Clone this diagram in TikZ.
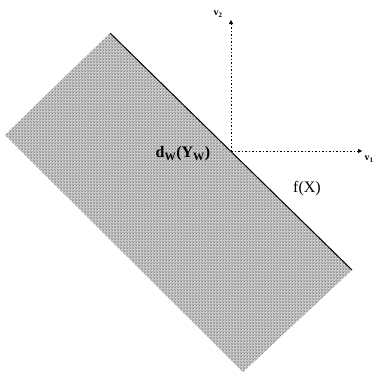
\documentclass[tikz,border=0pt]{standalone}
\usepackage{fontspec}
\setmainfont{Liberation Serif}
\usetikzlibrary{patterns,arrows.meta}
\begin{document}
\begin{tikzpicture}[x=1pt,y=-1pt,
  axisline/.style={dash pattern=on 1.5pt off 2pt,line width=0.5pt,-{Triangle[length=4pt,width=4pt]}},
  lbl/.style={inner sep=0pt,font=\fontsize{16}{16}\selectfont}]
\useasboundingbox (0,0) rectangle (377,373);
\coordinate (T) at (110,33);
\coordinate (R) at (352,270);
\coordinate (B) at (243,372);
\coordinate (L) at (5,135);
\fill[gray!30] (T) -- (R) -- (B) -- (L) -- cycle;
\fill[pattern=crosshatch dots,pattern color=black!55] (T) -- (R) -- (B) -- (L) -- cycle;
\fill[pattern=grid,pattern color=black!30] (T) -- (R) -- (B) -- (L) -- cycle;
\draw[line width=1pt] (T) -- (R);
\coordinate (O) at (231,151);
\coordinate (V2) at (231,20);
\coordinate (V1) at (362,151);
\draw[axisline] (O) -- (V2);
\draw[axisline] (O) -- (V1);
\node[inner sep=0pt,font=\bfseries\fontsize{10}{10}\selectfont] (v2) at (218,14) {v\textsubscript{2}};
\node[inner sep=0pt,font=\bfseries\fontsize{10}{10}\selectfont] (v1) at (369,159) {v\textsubscript{1}};
\node[lbl,font=\bfseries\fontsize{16}{16}\selectfont] (d) at (183,154) {d\textsubscript{W}(Y\textsubscript{W})};
\node[lbl] (f) at (307,189) {f(X)};
\end{tikzpicture}
\end{document}
